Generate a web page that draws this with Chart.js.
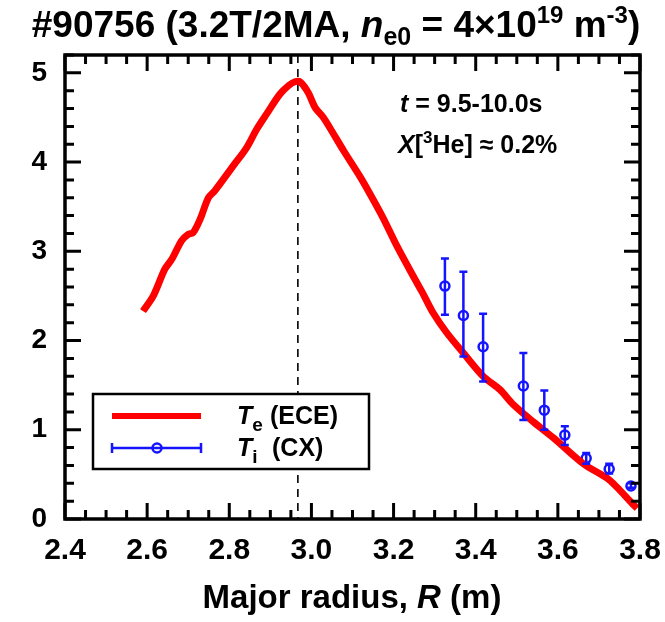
<!DOCTYPE html>
<html>
<head>
<meta charset="utf-8">
<script src="https://cdn.jsdelivr.net/npm/chart.js@4.4.1/dist/chart.umd.min.js"></script>
<style>
  html, body { margin: 0; padding: 0; background: #fff; }
  #wrap { width: 665px; height: 622px; }
</style>
</head>
<body>
<div id="wrap"><canvas id="chart" width="665" height="622"></canvas></div>
<script>
// Te (ECE) profile
const teR = [2.590, 2.615, 2.643, 2.660, 2.684, 2.700, 2.712, 2.729, 2.749, 2.765,
             2.810, 2.842, 2.867, 2.891, 2.923, 2.945, 2.960, 2.972, 2.992, 3.009,
             3.029, 3.048, 3.078, 3.118, 3.143, 3.175, 3.208, 3.248, 3.270, 3.295,
             3.329, 3.370, 3.418, 3.459, 3.492, 3.540, 3.589, 3.662, 3.719, 3.743,
             3.784, 3.793];
const teVal = [2.33, 2.50, 2.80, 2.91, 3.12, 3.19, 3.21, 3.36, 3.60, 3.68,
               3.96, 4.16, 4.37, 4.54, 4.76, 4.86, 4.90, 4.90, 4.78, 4.61,
               4.50, 4.36, 4.13, 3.84, 3.64, 3.37, 3.06, 2.72, 2.54, 2.32,
               2.09, 1.86, 1.60, 1.45, 1.28, 1.09, 0.91, 0.62, 0.46, 0.36,
               0.16, 0.12];

// Ti (CX) with error bars
const tiR    = [3.325, 3.370, 3.418, 3.516, 3.567, 3.617, 3.669, 3.725, 3.778];
const tiVal  = [2.61, 2.28, 1.93, 1.49, 1.22, 0.94, 0.68, 0.56, 0.37];
const tiLow  = [2.29, 1.82, 1.54, 1.11, 1.00, 0.83, 0.62, 0.51, 0.35];
const tiHigh = [2.92, 2.77, 2.30, 1.86, 1.44, 1.04, 0.74, 0.62, 0.40];

const xRange = [2.4, 3.8];
const yRange = [0, 5.2];
const yTicks = [0, 1, 2, 3, 4, 5];
const peakR = 2.967;

const RED = '#ff0000';
const BLUE = '#1414ff';
const FONT = '"Liberation Sans", Arial, sans-serif';

function drawRich(ctx, parts, x, y, align) {
  let w = 0;
  parts.forEach(p => {
    ctx.font = p.font;
    w += ctx.measureText(p.text).width;
  });
  let cx = align === 'center' ? x - w / 2 : x;
  ctx.textAlign = 'left';
  ctx.textBaseline = 'alphabetic';
  parts.forEach(p => {
    ctx.font = p.font;
    ctx.fillText(p.text, cx, y + (p.dy || 0));
    cx += ctx.measureText(p.text).width;
  });
}

const decor = {
  id: 'decor',
  beforeDatasetsDraw(chart) {
    const { ctx, chartArea: a, scales: { x } } = chart;
    const px = x.getPixelForValue(peakR);
    ctx.save();
    ctx.strokeStyle = '#000';
    ctx.lineWidth = 1.6;
    ctx.setLineDash([8, 6]);
    ctx.beginPath();
    ctx.moveTo(px, a.top);
    ctx.lineTo(px, a.bottom);
    ctx.stroke();
    ctx.restore();
  },
  afterDatasetsDraw(chart) {
    const { ctx, scales: { x, y } } = chart;
    ctx.save();
    ctx.strokeStyle = BLUE;
    ctx.lineWidth = 2.5;
    tiR.forEach((r, i) => {
      const px = x.getPixelForValue(r);
      const lo = y.getPixelForValue(tiLow[i]);
      const hi = y.getPixelForValue(tiHigh[i]);
      ctx.beginPath();
      ctx.moveTo(px, lo); ctx.lineTo(px, hi);
      ctx.moveTo(px - 4, lo); ctx.lineTo(px + 4, lo);
      ctx.moveTo(px - 4, hi); ctx.lineTo(px + 4, hi);
      ctx.stroke();
    });
    ctx.restore();
  },
  afterDraw(chart) {
    const { ctx, chartArea: a, scales: { x, y } } = chart;
    ctx.save();
    ctx.strokeStyle = '#000';
    ctx.lineCap = 'butt';

    // ticks, inward on all four sides
    ctx.lineWidth = 3;
    ctx.beginPath();
    for (let k = 0; k <= 28; k++) {
      const v = xRange[0] + k * 0.05;
      const px = x.getPixelForValue(v);
      const len = k % 4 === 0 ? 16 : 9;
      ctx.moveTo(px, a.bottom); ctx.lineTo(px, a.bottom - len);
      ctx.moveTo(px, a.top); ctx.lineTo(px, a.top + len);
    }
    for (let k = 0; k <= 26; k++) {
      const v = k * 0.2;
      const py = y.getPixelForValue(v);
      const len = k % 5 === 0 ? 16 : 9;
      ctx.moveTo(a.left, py); ctx.lineTo(a.left + len, py);
      ctx.moveTo(a.right, py); ctx.lineTo(a.right - len, py);
    }
    ctx.stroke();

    // frame
    ctx.lineWidth = 3.5;
    ctx.strokeRect(a.left, a.top, a.right - a.left, a.bottom - a.top);

    // legend
    const lx = 93, ly = 394, lw = 276, lh = 75;
    ctx.fillStyle = '#fff';
    ctx.fillRect(lx, ly, lw, lh);
    ctx.lineWidth = 2.5;
    ctx.strokeRect(lx, ly, lw, lh);

    ctx.strokeStyle = RED;
    ctx.lineWidth = 6;
    ctx.beginPath();
    ctx.moveTo(112, 416); ctx.lineTo(201, 416);
    ctx.stroke();

    ctx.strokeStyle = BLUE;
    ctx.lineWidth = 2.5;
    ctx.beginPath();
    ctx.moveTo(112, 448); ctx.lineTo(201, 448);
    ctx.moveTo(112, 443); ctx.lineTo(112, 453);
    ctx.moveTo(201, 443); ctx.lineTo(201, 453);
    ctx.stroke();
    ctx.beginPath();
    ctx.arc(157, 448, 4.5, 0, Math.PI * 2);
    ctx.stroke();

    ctx.fillStyle = '#000';
    drawRich(ctx, [
      { text: 'T', font: 'italic bold 25px ' + FONT },
      { text: 'e', font: 'bold 19px ' + FONT, dy: 7 }
    ], 237, 424, 'left');
    drawRich(ctx, [{ text: '(ECE)', font: 'bold 25px ' + FONT }], 270, 424, 'left');
    drawRich(ctx, [
      { text: 'T', font: 'italic bold 25px ' + FONT },
      { text: 'i', font: 'bold 19px ' + FONT, dy: 7 }
    ], 237, 456, 'left');
    drawRich(ctx, [{ text: '(CX)', font: 'bold 25px ' + FONT }], 272, 456, 'left');

    // annotations
    drawRich(ctx, [
      { text: 't', font: 'italic bold 25px ' + FONT },
      { text: ' = 9.5-10.0s', font: 'bold 25px ' + FONT }
    ], 400, 112, 'left');
    drawRich(ctx, [
      { text: 'X', font: 'italic bold 25px ' + FONT },
      { text: '[', font: 'bold 25px ' + FONT },
      { text: '3', font: 'bold 17px ' + FONT, dy: -10 },
      { text: 'He] \u2248 0.2%', font: 'bold 25px ' + FONT }
    ], 398, 153, 'left');

    // title
    drawRich(ctx, [
      { text: '#90756 (3.2T/2MA, ', font: 'bold 37px ' + FONT },
      { text: 'n', font: 'italic bold 37px ' + FONT },
      { text: 'e0', font: 'bold 25px ' + FONT, dy: 8 },
      { text: ' = 4\u00d710', font: 'bold 37px ' + FONT },
      { text: '19', font: 'bold 24px ' + FONT, dy: -14 },
      { text: ' m', font: 'bold 37px ' + FONT },
      { text: '-3', font: 'bold 24px ' + FONT, dy: -14 },
      { text: ')', font: 'bold 37px ' + FONT }
    ], 336, 37, 'center');

    // x axis title
    drawRich(ctx, [
      { text: 'Major radius, ', font: 'bold 33px ' + FONT },
      { text: 'R', font: 'italic bold 33px ' + FONT },
      { text: ' (m)', font: 'bold 33px ' + FONT }
    ], 352, 608, 'center');

    ctx.restore();
  }
};

new Chart(document.getElementById('chart'), {
  type: 'line',
  data: {
    datasets: [
      {
        label: 'Te (ECE)',
        data: teR.map((r, i) => ({ x: r, y: teVal[i] })),
        borderColor: RED,
        borderWidth: 7,
        pointRadius: 0,
        tension: 0.3,
        fill: false
      },
      {
        label: 'Ti (CX)',
        data: tiR.map((r, i) => ({ x: r, y: tiVal[i] })),
        showLine: false,
        borderColor: BLUE,
        backgroundColor: 'rgba(0,0,0,0)',
        pointRadius: 4.5,
        pointBorderWidth: 2.5,
        pointStyle: 'circle'
      }
    ]
  },
  options: {
    responsive: false,
    animation: false,
    layout: { padding: { left: 0, top: 55, right: 25, bottom: 0 } },
    plugins: {
      legend: { display: false },
      title: { display: false },
      tooltip: { enabled: false }
    },
    scales: {
      x: {
        type: 'linear',
        min: xRange[0],
        max: xRange[1],
        grid: { display: false, drawTicks: false },
        border: { display: false },
        ticks: {
          stepSize: 0.2,
          padding: 14,
          color: '#000',
          font: { family: FONT, size: 30, weight: 'bold' },
          maxRotation: 0,
          callback: v => v.toFixed(1)
        },
        afterFit: s => {
          s.height = 103;
          s.paddingLeft = 0;
          s.paddingRight = 0;
        }
      },
      y: {
        type: 'linear',
        min: yRange[0],
        max: yRange[1],
        grid: { display: false, drawTicks: false },
        border: { display: false },
        afterBuildTicks: s => {
          s.ticks = yTicks.map(v => ({ value: v }));
        },
        ticks: {
          padding: 18,
          color: '#000',
          font: { family: FONT, size: 28, weight: 'bold' },
          callback: v => String(v)
        },
        afterFit: s => {
          s.width = 65;
          s.paddingTop = 0;
          s.paddingBottom = 0;
        }
      }
    }
  },
  plugins: [decor]
});
</script>
</body>
</html>
